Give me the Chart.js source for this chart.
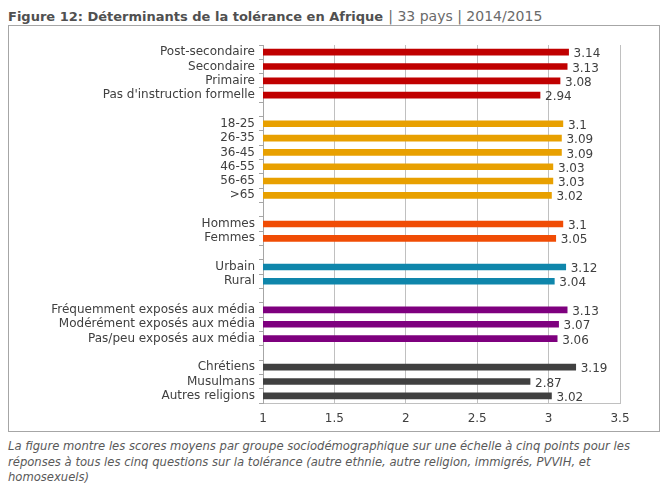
<!DOCTYPE html>
<html>
<head>
<meta charset="utf-8">
<script src="https://cdn.jsdelivr.net/npm/chart.js@4"></script>
<style>
  body { margin: 0; background: #fff; font-family: "DejaVu Sans", sans-serif; }
  #title { position: absolute; left: 8px; top: 6px; color: #555; white-space: nowrap; }
  #title b { font-size: 13px; color: #505050; }
  #title span { font-size: 14px; color: #6a6a6a; }
  #box { position: absolute; left: 8px; top: 25px; width: 650px; height: 405px; border: 1px solid #a6a6a6; }
  #caption { position: absolute; left: 8px; top: 439px; width: 655px; font-size: 11.6px; line-height: 15.5px; font-style: italic; color: #595959; white-space: nowrap; }
</style>
</head>
<body>
<div id="title"><b>Figure 12: Déterminants de la tolérance en Afrique</b> <span>| 33 pays | 2014/2015</span></div>
<div id="box"><canvas id="chart" width="650" height="405"></canvas></div>
<div id="caption">La figure montre les scores moyens par groupe sociodémographique sur une échelle à cinq points pour les<br>réponses à tous les cinq questions sur la tolérance (autre ethnie, autre religion, immigrés, PVVIH, et<br>homosexuels)</div>
<script>
var educationLabels = ['Post-secondaire', 'Secondaire', 'Primaire', "Pas d'instruction formelle"];
var educationValues = [3.14, 3.13, 3.08, 2.94];
var ageLabels = ['18-25', '26-35', '36-45', '46-55', '56-65', '>65'];
var ageValues = [3.1, 3.09, 3.09, 3.03, 3.03, 3.02];
var genderLabels = ['Hommes', 'Femmes'];
var genderValues = [3.1, 3.05];
var residenceLabels = ['Urbain', 'Rural'];
var residenceValues = [3.12, 3.04];
var mediaLabels = ['Fréquemment exposés aux média', 'Modérément exposés aux média', 'Pas/peu exposés aux média'];
var mediaValues = [3.13, 3.07, 3.06];
var religionLabels = ['Chrétiens', 'Musulmans', 'Autres religions'];
var religionValues = [3.19, 2.87, 3.02];
var xTicks = [1, 1.5, 2, 2.5, 3, 3.5];

var groups = [
    [educationLabels, educationValues, '#c00000', '#c00000'],
    [ageLabels, ageValues, '#e8a000', '#e8a000'],
    [genderLabels, genderValues, '#f04c05', '#f04c05'],
    [residenceLabels, residenceValues, '#0f86ab', '#0f86ab'],
    [mediaLabels, mediaValues, '#7e007e', '#b04cb0'],
    [religionLabels, religionValues, '#404040', '#404040']
];

var labels = [], values = [], fills = [], borders = [];
groups.forEach(function(g, i) {
    if (i > 0) { labels.push(''); values.push(null); fills.push('transparent'); borders.push('transparent'); }
    g[0].forEach(function(l, j) {
        labels.push(l); values.push(g[1][j]); fills.push(g[2]); borders.push(g[3]);
    });
});

var valueLabels = {
    id: 'valueLabels',
    afterDatasetsDraw: function(chart) {
        var ctx = chart.ctx;
        var meta = chart.getDatasetMeta(0);
        ctx.save();
        ctx.font = '12px "DejaVu Sans"';
        ctx.fillStyle = '#404040';
        ctx.textBaseline = 'middle';
        ctx.textAlign = 'left';
        meta.data.forEach(function(bar, i) {
            if (values[i] === null) return;
            ctx.fillText(String(values[i]), bar.x + 5, bar.y + 2);
        });
        ctx.restore();
    }
};

new Chart(document.getElementById('chart').getContext('2d'), {
    type: 'bar',
    data: {
        labels: labels,
        datasets: [{
            data: values,
            backgroundColor: fills,
            borderColor: borders,
            borderWidth: 0,
            barThickness: 6,
            borderSkipped: false
        }]
    },
    options: {
        indexAxis: 'y',
        responsive: false,
        animation: false,
        layout: { padding: { top: 19, right: 39, bottom: 0, left: 0 } },
        plugins: { legend: { display: false }, tooltip: { enabled: false } },
        scales: {
            x: {
                min: 1,
                max: 3.5,
                afterBuildTicks: function(scale) {
                    scale.ticks = xTicks.map(function(v) { return { value: v }; });
                },
                grid: { color: '#c0c0c0', drawTicks: false, lineWidth: 1 },
                border: { color: '#c0c0c0' },
                ticks: {
                    color: '#404040',
                    font: { family: 'DejaVu Sans', size: 12 },
                    padding: 9,
                    callback: function(v) { return String(v); }
                },
                afterFit: function(scale) { scale.height = 28; }
            },
            y: {
                grid: { drawOnChartArea: false, drawTicks: true, tickLength: 4, color: '#a6a6a6', offset: true },
                border: { color: '#a6a6a6' },
                ticks: { color: '#404040', font: { family: 'DejaVu Sans', size: 12 }, padding: 4, autoSkip: false },
                afterFit: function(scale) { scale.width = 254; }
            }
        }
    },
    plugins: [valueLabels]
});
</script>
</body>
</html>
